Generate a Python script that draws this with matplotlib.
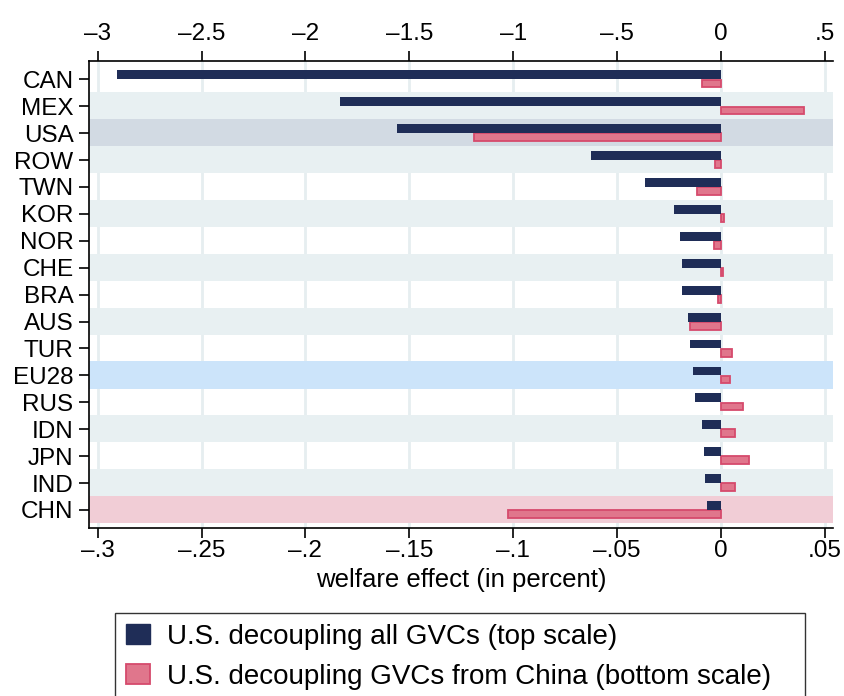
import matplotlib
matplotlib.use("Agg")
import matplotlib.pyplot as plt
from matplotlib.patches import Patch

plt.rcParams['font.family'] = ['Liberation Sans', 'DejaVu Sans']

# countries, top to bottom
countries = ["CAN", "MEX", "USA", "ROW", "TWN", "KOR", "NOR", "CHE", "BRA",
             "AUS", "TUR", "EU28", "RUS", "IDN", "JPN", "IND", "CHN"]

# U.S. decoupling all GVCs (top scale, percent)
all_gvc = [-2.905, -1.833, -1.559, -0.627, -0.366, -0.226, -0.197, -0.188, -0.188,
           -0.159, -0.149, -0.135, -0.125, -0.091, -0.082, -0.077, -0.067]

# U.S. decoupling GVCs from China (bottom scale, percent)
china_gvc = [-0.0090, 0.0401, -0.1190, -0.0027, -0.0117, 0.0013, -0.0034, 0.0008, -0.0013,
             -0.0149, 0.0051, 0.0043, 0.0104, 0.0066, 0.0133, 0.0066, -0.1025]

bottom_ticks = [-0.3, -0.25, -0.2, -0.15, -0.1, -0.05, 0, 0.05]
bottom_labels = ["\u2013.3", "\u2013.25", "\u2013.2", "\u2013.15", "\u2013.1", "\u2013.05", "0", ".05"]
top_ticks = [-3, -2.5, -2, -1.5, -1, -0.5, 0, 0.5]
top_labels = ["\u20133", "\u20132.5", "\u20132", "\u20131.5", "\u20131", "\u2013.5", "0", ".5"]

# shaded rows
band_colors = {"MEX": "#e8f0f2", "USA": "#d2dae3", "ROW": "#e8f0f2", "KOR": "#e8f0f2",
               "CHE": "#e8f0f2", "AUS": "#e8f0f2", "EU28": "#cce4fa", "IDN": "#e8f0f2",
               "IND": "#e8f0f2", "CHN": "#f1cdd6"}

navy = "#1f2d57"
pink_fill = "#e0768c"
pink_edge = "#d64a6c"

fig = plt.figure(figsize=(8.44, 6.96), dpi=100)
ax = fig.add_axes([0.1051, 0.2418, 0.8819, 0.6701])

xmin, xmax = -0.3043, 0.0539
ax.set_xlim(xmin, xmax)
ax.set_ylim(16.66, -0.67)

# grid lines
for t in bottom_ticks:
    ax.axvline(t, color="#e6eef0", lw=2, zorder=0)

ypos = list(range(len(countries)))
for i, c in enumerate(countries):
    if c in band_colors:
        ax.axhspan(i - 0.52, i + 0.49, color=band_colors[c], lw=0, zorder=1)

ax.barh([y + 0.155 for y in ypos], china_gvc, height=0.29, color=pink_fill,
        edgecolor=pink_edge, linewidth=1.3, zorder=3)

ax.set_yticks(ypos)
ax.set_yticklabels(countries, fontsize=17.5)
ax.set_xticks(bottom_ticks)
ax.set_xticklabels(bottom_labels, fontsize=17.5)
ax.tick_params(axis="x", length=7, width=1.2, pad=1.5)
ax.tick_params(axis="y", length=7, width=1.2, pad=4)
ax.set_xlabel("welfare effect (in percent)", fontsize=18.5, labelpad=5)

for s in ["right", "top"]:
    ax.spines[s].set_visible(False)
ax.spines["left"].set_linewidth(1.2)
ax.spines["bottom"].set_linewidth(1.2)

# top scale axis for the all-GVC scenario
ax2 = ax.twiny()
ax2.set_xlim(xmin * 10, xmax * 10)
ax2.set_ylim(16.66, -0.67)
ax2.barh([y - 0.165 for y in ypos], all_gvc, height=0.33, color=navy, lw=0, zorder=3)
ax2.set_xticks(top_ticks)
ax2.set_xticklabels(top_labels, fontsize=17.5)
ax2.tick_params(axis="x", length=7, width=1.2, pad=5)
for s in ["right", "bottom", "left"]:
    ax2.spines[s].set_visible(False)
ax2.spines["top"].set_linewidth(1.2)
ax2.patch.set_visible(False)

handles = [Patch(facecolor=navy, edgecolor=navy),
           Patch(facecolor=pink_fill, edgecolor=pink_edge, linewidth=1.3)]
labels = ["U.S. decoupling all GVCs (top scale)",
          "U.S. decoupling GVCs from China (bottom scale)"]
leg = fig.legend(handles, labels, loc="upper left",
                 bbox_to_anchor=(0.1363, 0.0, 0.8175, 0.1197), mode="expand",
                 fontsize=20, frameon=True, fancybox=False, edgecolor="black",
                 handlelength=0.86, handleheight=0.72, handletextpad=0.6,
                 labelspacing=0.5, borderpad=0.4, borderaxespad=0)
leg.get_frame().set_linewidth(1.0)

fig.savefig("out.png", dpi=100)
